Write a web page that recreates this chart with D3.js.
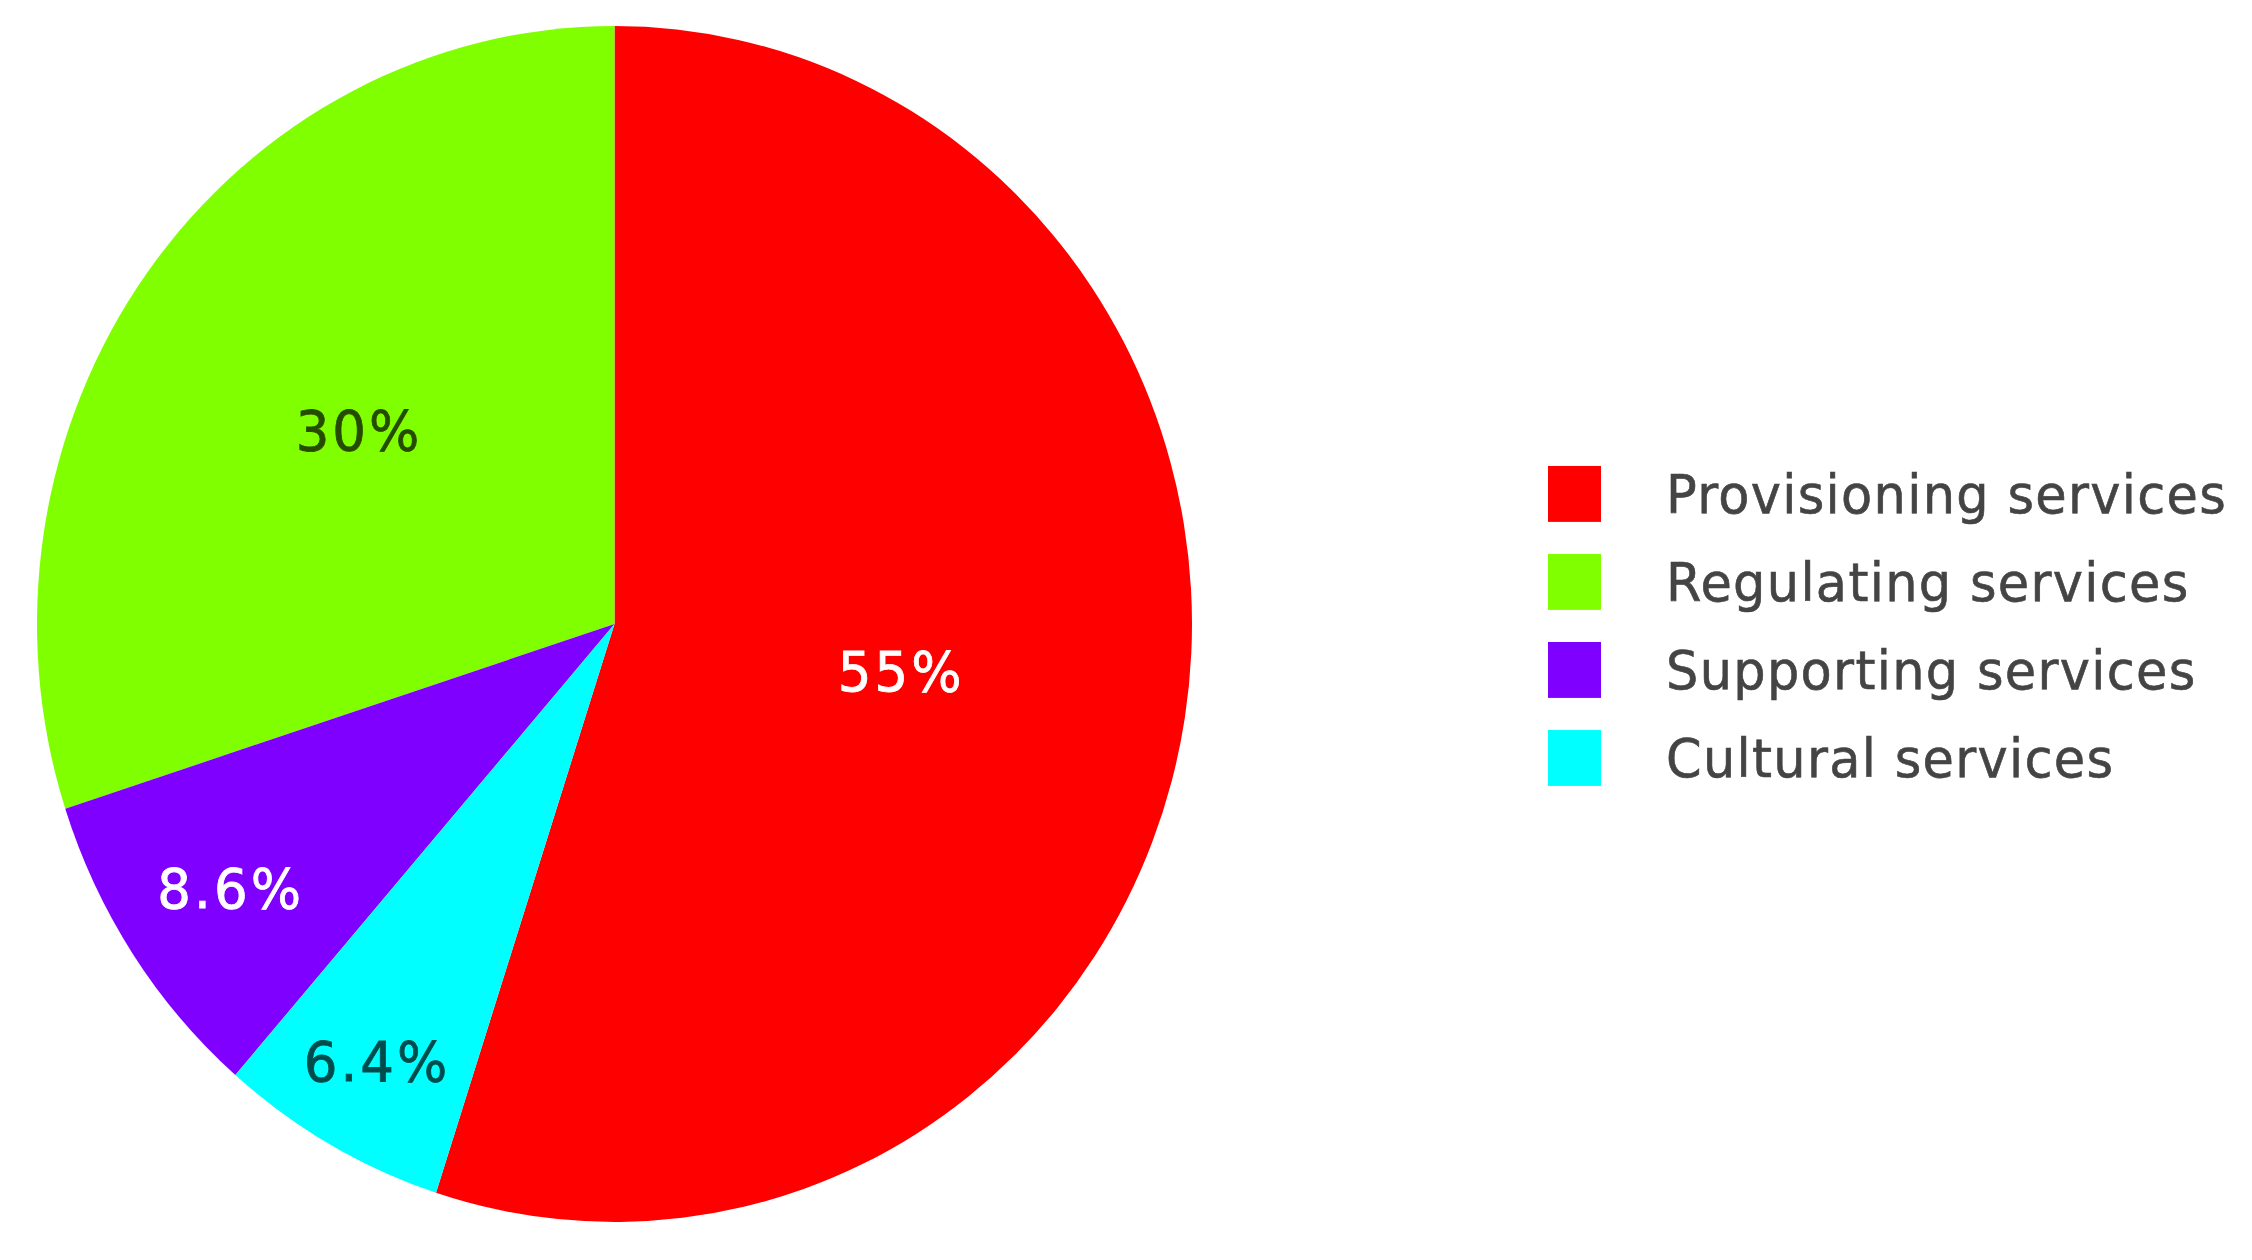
<!DOCTYPE html>
<html>
<head>
<meta charset="utf-8">
<script src="https://cdn.jsdelivr.net/npm/d3@7"></script>
<style>
  html, body { margin: 0; padding: 0; background: #fff; }
  svg { display: block; }
  text { font-family: "DejaVu Sans", Verdana, sans-serif; }
</style>
</head>
<body>
<svg class="chart" width="2252" height="1260"></svg>
<script>
// legend order
const categories = ["Provisioning services", "Regulating services", "Supporting services", "Cultural services"];
const shares = [55, 30, 8.6, 6.4];
const colors = ["#ff0000", "#80ff00", "#8000ff", "#00ffff"];
const labelColors = ["#ffffff", "#000000", "#ffffff", "#000000"];
// clockwise from 12 o'clock
const sliceOrder = ["Provisioning services", "Cultural services", "Supporting services", "Regulating services"];

const width = 2252, height = 1260;
const stretch = 598 / 577.5;   // picture is a bit taller than wide
const radius = 577.5;
const cx = 614.5, cy = 624 / stretch;

const data = categories.map((c, i) => ({ name: c, value: shares[i], color: colors[i], label: labelColors[i] }));

const svg = d3.select("svg.chart");
const root = svg.append("g").attr("transform", `scale(1, ${stretch})`);

const pie = d3.pie()
  .value(d => d.value)
  .sort((a, b) => sliceOrder.indexOf(a.name) - sliceOrder.indexOf(b.name));

const arc = d3.arc().innerRadius(0).outerRadius(radius);

const arcs = pie(data);

const pieGroup = root.append("g")
  .attr("transform", `translate(${cx}, ${cy})`);

pieGroup.selectAll("path")
  .data(arcs)
  .enter()
  .append("path")
  .attr("d", arc)
  .attr("fill", d => d.data.color);

// small slices get their label pushed out toward the rim
const labelPos = d => {
  const a = (d.startAngle + d.endAngle) / 2;
  const span = d.endAngle - d.startAngle;
  const f = span > Math.PI / 2 ? (span > Math.PI ? 0.5 : 0.55) : (span > 0.5 ? 0.8 : 0.84);
  return [Math.sin(a) * radius * f, -Math.cos(a) * radius * f];
};

pieGroup.selectAll("text")
  .data(arcs)
  .enter()
  .append("text")
  .attr("x", d => labelPos(d)[0] + 1.5)
  .attr("y", d => labelPos(d)[1])
  .attr("text-anchor", "middle")
  .attr("dy", "0.36em")
  .attr("font-size", 53)
  .attr("letter-spacing", 3)
  .attr("fill", d => d.data.label)
  .attr("stroke", d => d.data.label)
  .attr("stroke-width", 0.8)
  .attr("opacity", d => d.data.label === "#ffffff" ? 1 : 0.7)
  .text(d => d3.format(".2")(d.data.value) + "%");

// legend
const rowY = d3.scalePoint()
  .domain(categories)
  .range([477, 477 + 85 * 3]);

const legend = root.append("g")
  .selectAll("g")
  .data(data)
  .enter()
  .append("g")
  .attr("transform", d => `translate(1548, ${rowY(d.name)})`);

legend.append("rect")
  .attr("x", 0)
  .attr("y", -27)
  .attr("width", 53)
  .attr("height", 54)
  .attr("fill", d => d.color);

legend.append("text")
  .attr("x", 118)
  .attr("y", 0)
  .attr("dy", "0.36em")
  .attr("font-size", 51)
  .attr("letter-spacing", 1.3)
  .attr("fill", "#444")
  .attr("stroke", "#444")
  .attr("stroke-width", 0.6)
  .text(d => d.name);
</script>
</body>
</html>
